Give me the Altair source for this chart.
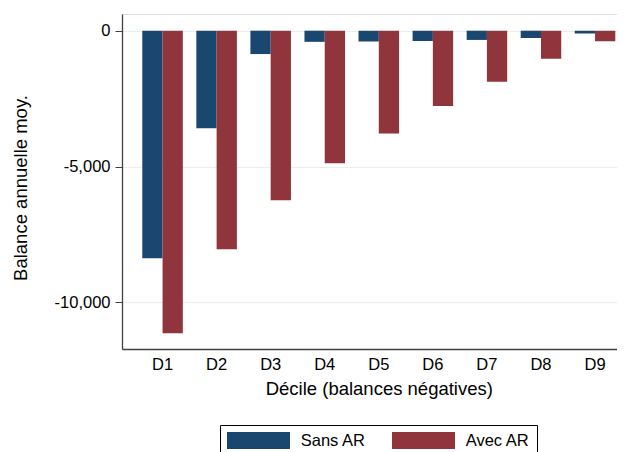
import altair as alt
import pandas as pd

deciles = ["D1", "D2", "D3", "D4", "D5", "D6", "D7", "D8", "D9"]
series = ["Sans AR", "Avec AR"]
sans_ar = [-8370, -3590, -860, -410, -400, -380, -340, -270, -100]
avec_ar = [-11130, -8040, -6240, -4880, -3780, -2770, -1880, -1030, -390]
colors = ["#1a476f", "#90353b"]
y_ticks = [0, -5000, -10000]

rows = []
for d, s, a in zip(deciles, sans_ar, avec_ar):
    rows.append({"decile": d, "serie": series[0], "value": s})
    rows.append({"decile": d, "serie": series[1], "value": a})
df = pd.DataFrame(rows)

FONT = "Liberation Sans"

chart = alt.Chart(df).mark_bar().encode(
    x=alt.X(
        "decile:N",
        sort=deciles,
        scale=alt.Scale(paddingInner=0.25, paddingOuter=0.2033, align=0.923),
        axis=alt.Axis(
            title="Décile (balances négatives)",
            labelAngle=0,
            ticks=False,
            domainColor="#404040",
            domainWidth=1.3,
            labelFont=FONT,
            labelFontSize=16.5,
            labelColor="black",
            labelPadding=7,
            titleFont=FONT,
            titleFontSize=18.5,
            titleFontWeight="normal",
            titleColor="black",
            titleX=256.8,
            titleY=45,
            titleBaseline="alphabetic",
            grid=False,
        ),
    ),
    xOffset=alt.XOffset(
        "serie:N",
        sort=series,
        scale=alt.Scale(domain=series, paddingInner=0, paddingOuter=0),
    ),
    y=alt.Y(
        "value:Q",
        scale=alt.Scale(domain=[-11713, 614], nice=False, zero=False),
        axis=alt.Axis(
            values=y_ticks,
            labelExpr="replace(format(datum.value, ',.0f'), '\u2212', '-')",
            title="Balance annuelle moy.",
            domainColor="#404040",
            domainWidth=1.3,
            tickColor="#404040",
            tickSize=7,
            labelFont=FONT,
            labelFontSize=16.5,
            labelColor="black",
            labelPadding=5,
            titleFont=FONT,
            titleFontSize=18.5,
            titleFontWeight="normal",
            titleColor="black",
            titleX=-95.3,
            titleY=173.5,
            titleBaseline="alphabetic",
            grid=True,
            gridColor="#e6eef0",
            gridWidth=1.2,
        ),
    ),
    color=alt.Color(
        "serie:N",
        scale=alt.Scale(domain=series, range=colors),
        legend=alt.Legend(
            title=None,
            orient="none",
            legendX=98,
            legendY=411,
            direction="horizontal",
            symbolType="M-1,-0.27H1V0.27H-1Z",
            symbolSize=3969,
            clipHeight=17,
            symbolStrokeWidth=0,
            symbolOpacity=1,
            labelFont=FONT,
            labelFontSize=16.5,
            labelColor="black",
            labelOffset=10.7,
            columnPadding=26,
            padding=7,
            strokeColor="black",
            fillColor="white",
        ),
    ),
).properties(
    width=495,
    height=335,
    autosize="none",
    padding={"left": 114, "top": 6, "right": 0, "bottom": 103},
).configure_view(stroke=None).configure(background="white")

chart.save("out.html", embed_options={"renderer": "svg", "actions": False})
